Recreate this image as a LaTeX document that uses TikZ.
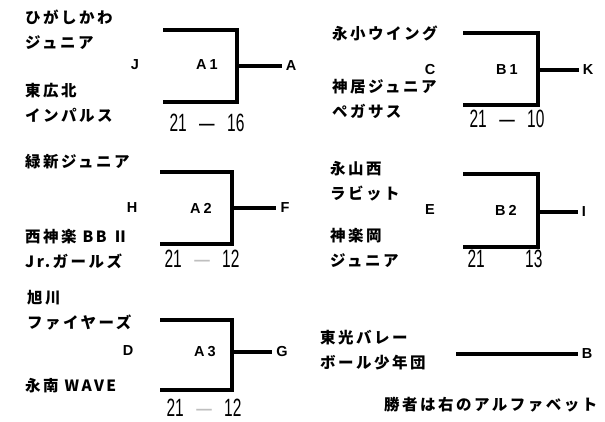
\documentclass[tikz,border=0pt]{standalone}
\usepackage{graphicx}
\usepackage{fontspec}
\setmainfont{Liberation Sans}
\newfontfamily\jpfont[LetterSpace=16]{Noto Sans CJK JP}
\newfontfamily\scorefont{Liberation Sans}
\newcommand{\scoretext}[3]{\scalebox{0.62}[1]{\scorefont\fontsize{25}{25}\selectfont #1\hspace{20pt}#2\hspace{20pt}#3}}
\tikzset{
  team/.style={anchor=west, align=left, inner sep=0pt, font=\jpfont\bfseries\fontsize{15.5}{25}\selectfont},
  ltr/.style={inner sep=0pt, font=\bfseries\fontsize{14.5}{14.5}\selectfont},
  brk/.style={line width=3.4pt, line join=miter},
  stub/.style={line width=3.4pt},
  score/.style={inner sep=0pt}
}
\begin{document}
\begin{tikzpicture}[x=1pt,y=-1pt]
\useasboundingbox[fill=white] (0,0) rectangle (605,422);

% ---------- A1 ----------
\node[team] (tHig) at (25,30) {ひがしかわ\\ジュニア};
\node[team] (tHkh) at (25,103) {東広北\\インパルス};
\node[ltr] (J) at (135,65) {J};
\node[ltr] (A1) at (207,65) {A\kern3pt 1};
\node[ltr] (A) at (291,66) {A};
\node[score] (s1) at (207,123) {\scoretext{21}{—}{16}};
\coordinate (a1t) at (163,30);
\coordinate (a1b) at (163,102);
\coordinate (a1v) at (237,66);
\draw[brk] (a1t) -| (a1v) |- (a1b);
\draw[stub] (a1v) -- ([xshift=-4pt]A.west);

% ---------- B1 ----------
\node[team] (tEi) at (332,33) {永小ウイング};
\node[team] (tKam) at (332,99) {神居ジュニア\\ペガサス};
\node[ltr] (C) at (430,70) {C};
\node[ltr] (B1) at (507,70) {B\kern3pt 1};
\node[ltr] (K) at (588,70) {K};
\node[score] (s2) at (507,119) {\scoretext{21}{—}{10}};
\coordinate (b1t) at (463,33);
\coordinate (b1b) at (463,105);
\coordinate (b1v) at (538,70);
\draw[brk] (b1t) -| (b1v) |- (b1b);
\draw[stub] (b1v) -- ([xshift=-4pt]K.west);

% ---------- A2 ----------
\node[team] (tMid) at (25,162) {緑新ジュニア};
\node[team] (tNis) at (25,249) {西神楽 BB Ⅱ\\Jr.ガールズ};
\node[ltr] (H) at (132,208) {H};
\node[ltr] (A2) at (201,208) {A\kern3pt 2};
\node[ltr] (F) at (285,208) {F};
\node[score] (s3) at (202,259) {\scoretext{21}{\textcolor{black!25}{—}}{12}};
\coordinate (a2t) at (160,172);
\coordinate (a2b) at (160,244);
\coordinate (a2v) at (232,208);
\draw[brk] (a2t) -| (a2v) |- (a2b);
\draw[stub] (a2v) -- ([xshift=-4pt]F.west);

% ---------- B2 ----------
\node[team] (tNag) at (330,181) {永山西\\ラビット};
\node[team] (tKag) at (330,248) {神楽岡\\ジュニア};
\node[ltr] (E) at (430,210) {E};
\node[ltr] (B2) at (506,210) {B\kern3pt 2};
\node[ltr] (I) at (584,212) {I};
\node[score] (s4) at (505,259) {\scoretext{21}{\phantom{—}}{13}};
\coordinate (b2t) at (463,174);
\coordinate (b2b) at (463,247);
\coordinate (b2v) at (538,212);
\draw[brk] (b2t) -| (b2v) |- (b2b);
\draw[stub] (b2v) -- ([xshift=-4pt]I.west);

% ---------- A3 ----------
\node[team] (tAsa) at (27,310) {旭川\\ファイヤーズ};
\node[team] (tEin) at (25,386) {永南 WAVE};
\node[ltr] (D) at (128,351) {D};
\node[ltr] (A3) at (205,352) {A\kern3pt 3};
\node[ltr] (G) at (282,352) {G};
\node[score] (s5) at (204,408) {\scoretext{21}{\textcolor{black!25}{—}}{12}};
\coordinate (a3t) at (160,320);
\coordinate (a3b) at (160,390);
\coordinate (a3v) at (232,352);
\draw[brk] (a3t) -| (a3v) |- (a3b);
\draw[stub] (a3v) -- ([xshift=-4pt]G.west);

% ---------- bye ----------
\node[team] (tTok) at (320,350) {東光バレー\\ボール少年団};
\node[ltr] (B) at (587,354) {B};
\coordinate (byeS) at (456,354);
\draw[stub] (byeS) -- ([xshift=-4pt]B.west);

% ---------- note ----------
\node[team] (note) at (384,405) {勝者は右のアルファベット};
\end{tikzpicture}
\end{document}
